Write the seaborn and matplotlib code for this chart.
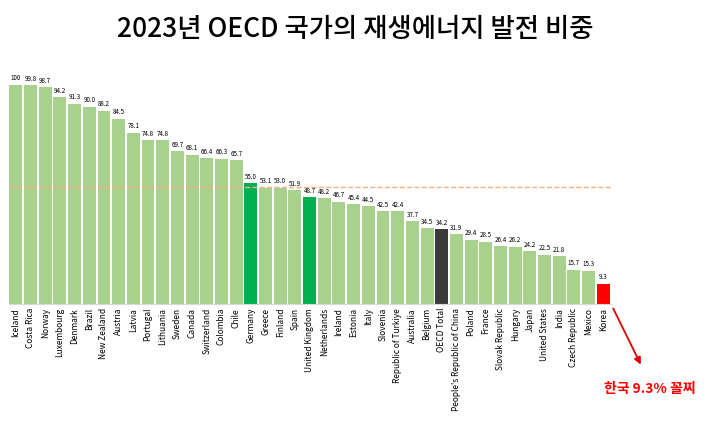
import matplotlib
matplotlib.use("Agg")
import matplotlib.pyplot as plt
import seaborn as sns
import pandas as pd

countries = ['Iceland', 'Costa Rica', 'Norway', 'Luxembourg', 'Denmark', 'Brazil', 'New Zealand',
             'Austria', 'Latvia', 'Portugal', 'Lithuania', 'Sweden', 'Canada', 'Switzerland',
             'Colombia', 'Chile', 'Germany', 'Greece', 'Finland', 'Spain', 'United Kingdom',
             'Netherlands', 'Ireland', 'Estonia', 'Italy', 'Slovenia', 'Republic of Turkiye',
             'Australia', 'Belgium', 'OECD Total', "People's Republic of China", 'Poland', 'France',
             'Slovak Republic', 'Hungary', 'Japan', 'United States', 'India', 'Czech Republic',
             'Mexico', 'Korea']
shares = [100, 99.8, 98.7, 94.2, 91.3, 90.0, 88.2, 84.5, 78.1, 74.8, 74.8, 69.7, 68.1, 66.4,
          66.3, 65.7, 55.0, 53.1, 53.0, 51.9, 48.7, 48.2, 46.7, 45.4, 44.5, 42.5, 42.4, 37.7,
          34.5, 34.2, 31.9, 29.4, 28.5, 26.4, 26.2, 24.2, 22.5, 21.8, 15.7, 15.3, 9.3]
ref_line = 53.5

plt.rcParams["font.family"] = ["Noto Sans CJK KR", "Noto Sans CJK JP", "Noto Sans CJK SC", "DejaVu Sans"]
df = pd.DataFrame({'country': countries, 'share': shares})
highlight = {'Germany': '#00b050', 'United Kingdom': '#00b050', 'OECD Total': '#3a3a3a', 'Korea': '#ff0000'}
palette = [highlight.get(c, '#a9d18e') for c in countries]

fig = plt.figure(figsize=(7.1, 4.39), dpi=100)
ax = fig.add_axes([0.012, 0.305, 0.848, 0.52])
sns.barplot(data=df, x='country', y='share', hue='country', palette=palette, legend=False,
            width=0.88, saturation=1, ax=ax)
for i, v in enumerate(shares):
    ax.text(i, v + 1.5, f'{v:.0f}' if v == 100 else f'{v:.1f}', ha='center', va='bottom', fontsize=4.5)
ax.axhline(ref_line, color='#f4b183', linestyle='--', linewidth=1)
ax.set_xlim(-0.5, len(countries) - 0.5)
ax.set_ylim(0, 104)
ax.set_xlabel('')
ax.set_ylabel('')
ax.set_yticks([])
ax.tick_params(axis='x', length=0, pad=2)
ax.set_xticks(range(len(countries)))
ax.set_xticklabels(countries, rotation=90, fontsize=6)
for s in ax.spines.values():
    s.set_visible(False)
ax.spines['bottom'].set_visible(True)
ax.spines['bottom'].set_color('#d9d9d9')

fig.text(0.5, 0.915, '2023년 OECD 국가의 재생에너지 발전 비중', ha='center', fontsize=19, fontweight='medium')
fig.add_artist(matplotlib.patches.FancyArrowPatch((612, 439 - 307), (642, 439 - 368),
               transform=None, arrowstyle='-|>', mutation_scale=10, color='#e00000', lw=1.3))
fig.text(0.915, 0.105, '한국 9.3% 꼴찌', ha='center', fontsize=10, color='#ff0000', fontweight='bold')
fig.savefig('out.png', dpi=100)
